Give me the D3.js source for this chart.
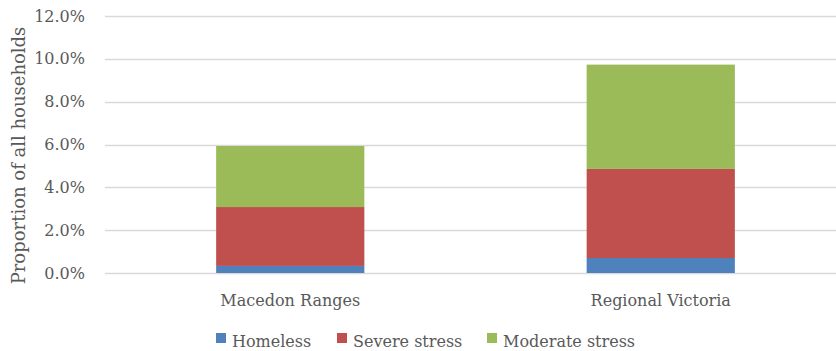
<!DOCTYPE html>
<html>
<head>
<meta charset="utf-8">
<script src="https://cdn.jsdelivr.net/npm/d3@7"></script>
<style>
  html, body { margin: 0; padding: 0; background: #fff; }
  svg { display: block; }
  text { font-family: "DejaVu Serif", serif; fill: #595959; }
</style>
</head>
<body>
<svg id="chart" width="836" height="351"></svg>
<script>
// Housing stress, share of all households (%)
const categories = ["Macedon Ranges", "Regional Victoria"];
const seriesNames = ["Homeless", "Severe stress", "Moderate stress"];
const homeless = [0.33, 0.70];
const severeStress = [2.75, 4.16];
const moderateStress = [2.85, 4.87];
const yTicks = [0, 2, 4, 6, 8, 10, 12];
const colors = ["#4F81BD", "#C0504D", "#9BBB59"];

const rows = categories.map((c, i) => ({
  category: c,
  "Homeless": homeless[i],
  "Severe stress": severeStress[i],
  "Moderate stress": moderateStress[i]
}));

const svg = d3.select("#chart");
const plot = { left: 105, right: 846, top: 16, bottom: 273 };

const x = d3.scaleBand()
  .domain(categories)
  .range([plot.left, plot.right])
  .paddingInner(0.6)
  .paddingOuter(0.3);

const y = d3.scaleLinear().domain([0, 12]).range([plot.bottom, plot.top]);

const color = d3.scaleOrdinal().domain(seriesNames).range(colors);

// Horizontal gridlines
svg.append("g")
  .selectAll("line")
  .data(yTicks)
  .join("line")
  .attr("x1", plot.left)
  .attr("x2", plot.right)
  .attr("y1", d => Math.round(y(d)) + 0.5)
  .attr("y2", d => Math.round(y(d)) + 0.5)
  .attr("stroke", "#D9D9D9")
  .attr("stroke-width", 1.3);

// Y axis tick labels
const yAxis = d3.axisLeft(y)
  .tickValues(yTicks)
  .tickFormat(d => d.toFixed(1) + "%")
  .tickSize(0)
  .tickPadding(0);

svg.append("g")
  .attr("transform", `translate(85,0)`)
  .call(yAxis)
  .call(g => g.select(".domain").remove())
  .selectAll("text")
  .attr("font-family", "DejaVu Serif, serif")
  .attr("font-size", 16)
  .attr("fill", "#595959");

// Stacked bars
const stack = d3.stack().keys(seriesNames);
const layers = stack(rows);

svg.append("g")
  .selectAll("g")
  .data(layers)
  .join("g")
  .attr("fill", d => color(d.key))
  .selectAll("rect")
  .data(d => d)
  .join("rect")
  .attr("x", d => x(d.data.category))
  .attr("width", x.bandwidth())
  .attr("y", d => y(d[1]))
  .attr("height", d => y(d[0]) - y(d[1]));

// Category labels
const xAxis = d3.axisBottom(x).tickSize(0).tickPadding(0);
svg.append("g")
  .attr("transform", `translate(0,${plot.bottom + 33})`)
  .call(xAxis)
  .call(g => g.select(".domain").remove())
  .selectAll("text")
  .attr("dy", 0)
  .attr("font-family", "DejaVu Serif, serif")
  .attr("font-size", 16)
  .attr("fill", "#595959");

// Y axis title
svg.append("text")
  .attr("transform", `translate(25,${(plot.top + plot.bottom) / 2 + 11}) rotate(-90)`)
  .attr("text-anchor", "middle")
  .attr("font-size", 18)
  .text("Proportion of all households");

// Legend
const legendX = [216, 337, 487];
const legend = svg.append("g")
  .selectAll("g")
  .data(seriesNames)
  .join("g")
  .attr("transform", (d, i) => `translate(${legendX[i]},333)`);

legend.append("rect")
  .attr("width", 10)
  .attr("height", 10)
  .attr("fill", d => color(d));

legend.append("text")
  .attr("x", 16)
  .attr("y", 14)
  .attr("font-size", 16)
  .text(d => d);
</script>
</body>
</html>
